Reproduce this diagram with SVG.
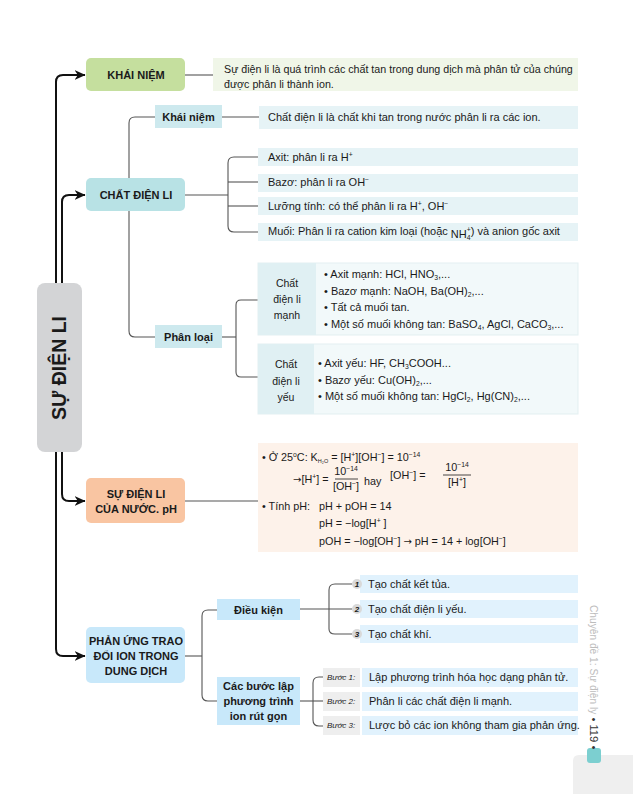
<svg xmlns="http://www.w3.org/2000/svg" width="633" height="794" viewBox="0 0 633 794">
<defs>
<marker id="arrB" viewBox="0 0 10 10" refX="9.5" refY="5" markerWidth="11" markerHeight="11" markerUnits="userSpaceOnUse" orient="auto">
<path d="M0,0.5 L10,5 L0,9.5 L3,5 z" fill="#111"/>
</marker>
</defs>
<style>
text{font-family:"Liberation Sans",Arial,sans-serif;fill:#1a1a1a}
.t{font-size:11px}
.d{font-size:10.7px}
.f{font-size:10.8px}
.b{font-weight:bold;font-size:11px;text-anchor:middle}
.lbl{font-size:10.5px;text-anchor:middle}
.sm{font-size:6.8px}
.ar{font-family:"DejaVu Sans",sans-serif;font-size:10px}
.main{fill:none;stroke:#111;stroke-width:2}
.con{fill:none;stroke:#555;stroke-width:1.1}
.it{font-style:italic;font-size:8px}
</style>
<rect width="633" height="794" fill="#fff"/>

<g id="connectors">
<path class="main" d="M56,290 V82 Q56,75 63,75 H85" marker-end="url(#arrB)"/>
<path class="main" d="M62,290 V202 Q62,195 69,195 H85" marker-end="url(#arrB)"/>
<path class="main" d="M62,445 V494 Q62,501 69,501 H85" marker-end="url(#arrB)"/>
<path class="main" d="M56,445 V649 Q56,656 63,656 H85" marker-end="url(#arrB)"/>
<path class="con" d="M185,75 H213"/>
<path class="con" d="M155,117 H135 Q129,117 129,123 V331 Q129,337 135,337 H155"/>
<path class="con" d="M222,117 H259"/>
<path class="con" d="M185,195 H228"/>
<path class="con" d="M258,157 H234 Q228,157 228,163 V226 Q228,232 234,232 H258"/>
<path class="con" d="M228,182 H258"/>
<path class="con" d="M228,206 H258" stroke="#999"/>
<path class="con" d="M222,337 H236"/>
<path class="con" d="M258,300 H241 Q236,300 236,305 V372 Q236,377 241,377 H258"/>
<path class="con" d="M185,501 H258"/>
<path class="con" d="M185,656 H202"/>
<path class="con" d="M217,610 H208 Q202,610 202,616 V695 Q202,701 208,701 H217"/>
<path class="con" d="M300,609 H352"/>
<path class="con" d="M352,584 H335 Q329,584 329,590 V629 Q329,634 335,634 H352"/>
<path class="con" d="M300,701 H323"/>
<path class="con" d="M323,677 H319 Q313,677 313,683 V720 Q313,726 319,726 H323"/>
</g>

<g id="root">
<rect x="37" y="283" width="45" height="169" rx="8" fill="#d3d4d6"/>
<text transform="translate(66,368) rotate(-90)" x="0" y="0" text-anchor="middle" font-weight="bold" font-size="19.5">SỰ ĐIỆN LI</text>
</g>

<g id="khai-niem">
<rect x="86" y="58" width="99" height="33" rx="5" fill="#c5df9e"/>
<text class="b" x="136" y="79">KHÁI NIỆM</text>
</g>
<g id="khai-niem-def">
<rect x="213" y="58" width="365" height="33" fill="#f0f6e8"/>
<text class="d" x="224" y="73">Sự điện li là quá trình các chất tan trong dung dịch mà phân tử của chúng</text>
<text class="d" x="224" y="88">được phân li thành ion.</text>
</g>

<g id="chat-dien-li">
<rect x="86" y="178" width="99" height="33" rx="5" fill="#b8e2e5"/>
<text class="b" x="136" y="199">CHẤT ĐIỆN LI</text>
</g>
<g id="cdl-khai-niem">
<rect x="155" y="105" width="67" height="23" fill="#cde9ee"/>
<text class="b" x="188.5" y="121">Khái niệm</text>
</g>
<g id="cdl-khai-niem-def">
<rect x="259" y="106" width="319" height="23" fill="#e6f3f6"/>
<text class="t" x="268" y="121">Chất điện li là chất khi tan trong nước phân li ra các ion.</text>
</g>
<g id="cdl-axit">
<rect x="258" y="148" width="320" height="18" fill="#e6f3f6"/>
<text class="t" x="268" y="161">Axit: phân li ra H<tspan class="sm" dy="-4">+</tspan></text>
</g>
<g id="cdl-bazo">
<rect x="258" y="174" width="320" height="18" fill="#e6f3f6"/>
<text class="t" x="268" y="186">Bazơ: phân li ra OH<tspan class="sm" dy="-4">−</tspan></text>
</g>
<g id="cdl-luong-tinh">
<rect x="258" y="197" width="320" height="18" fill="#e6f3f6"/>
<text class="t" x="268" y="210">Lưỡng tính: có thể phân li ra H<tspan class="sm" dy="-4">+</tspan><tspan dy="4">, OH</tspan><tspan class="sm" dy="-4">−</tspan></text>
</g>
<g id="cdl-muoi">
<rect x="258" y="223" width="320" height="18" fill="#e6f3f6"/>
<text class="t" x="268" y="235">Muối: Phân li ra cation kim loại (hoặc <tspan dy="3">NH</tspan><tspan class="sm" dy="2">4</tspan><tspan class="sm" dx="-3.8" dy="-8">+</tspan><tspan dy="3">) và anion gốc axit</tspan></text>
</g>

<g id="phan-loai">
<rect x="155" y="325" width="67" height="23" fill="#cde9ee"/>
<text class="b" x="188.5" y="341">Phân loại</text>
</g>
<g id="manh">
<rect x="258" y="263" width="320" height="72" fill="#f2f9fa" stroke="#e3eff1" stroke-width="1"/>
<rect x="258" y="263" width="58" height="72" fill="#e0f0f3"/>
<text class="lbl" x="287" y="287">Chất</text>
<text class="lbl" x="287" y="303">điện li</text>
<text class="lbl" x="287" y="319">mạnh</text>
<text class="t" x="324" y="278">• Axit mạnh: HCl, HNO<tspan class="sm" dy="2">3</tspan><tspan dy="-2">,...</tspan></text>
<text class="t" x="324" y="295">• Bazơ mạnh: NaOH, Ba(OH)<tspan class="sm" dy="2">2</tspan><tspan dy="-2">,...</tspan></text>
<text class="t" x="324" y="311">• Tất cả muối tan.</text>
<text class="t" x="324" y="328">• Một số muối không tan: BaSO<tspan class="sm" dy="2">4</tspan><tspan dy="-2">, AgCl, CaCO</tspan><tspan class="sm" dy="2">3</tspan><tspan dy="-2">,...</tspan></text>
</g>
<g id="yeu">
<rect x="258" y="344" width="320" height="70" fill="#f2f9fa" stroke="#e3eff1" stroke-width="1"/>
<rect x="258" y="344" width="56" height="70" fill="#e0f0f3"/>
<text class="lbl" x="286" y="368">Chất</text>
<text class="lbl" x="286" y="385">điện li</text>
<text class="lbl" x="286" y="401">yếu</text>
<text class="t" x="318" y="367">• Axit yếu: HF, CH<tspan class="sm" dy="2">3</tspan><tspan dy="-2">COOH...</tspan></text>
<text class="t" x="318" y="384">• Bazơ yếu: Cu(OH)<tspan class="sm" dy="2">2</tspan><tspan dy="-2">,...</tspan></text>
<text class="t" x="318" y="400">• Một số muối không tan: HgCl<tspan class="sm" dy="2">2</tspan><tspan dy="-2">, Hg(CN)</tspan><tspan class="sm" dy="2">2</tspan><tspan dy="-2">,...</tspan></text>
</g>

<g id="nuoc-ph">
<rect x="86" y="478" width="99" height="45" rx="5" fill="#f9c5a2"/>
<text class="b" x="136" y="498">SỰ ĐIỆN LI</text>
<text class="b" x="136" y="513">CỦA NƯỚC. pH</text>
</g>
<g id="ph-box">
<rect x="258" y="443" width="320" height="109" fill="#fdf2ea"/>
<text class="f" x="262" y="461">• Ở 25<tspan class="sm" dy="-4">o</tspan><tspan dy="4">C:  K</tspan><tspan font-size="5.5" dy="2">H₂O</tspan><tspan dy="-2"> = [H</tspan><tspan class="sm" dy="-4">+</tspan><tspan dy="4">][OH</tspan><tspan class="sm" dy="-4">−</tspan><tspan dy="4">] = 10</tspan><tspan class="sm" dy="-4">−14</tspan></text>
<text class="f" x="293" y="483"><tspan class="ar">→</tspan>[H<tspan class="sm" dy="-4">+</tspan><tspan dy="4">] =</tspan></text>
<text class="f" x="346" y="475" text-anchor="middle">10<tspan class="sm" dy="-4">−14</tspan></text>
<line x1="335" y1="479" x2="358" y2="479" stroke="#1a1a1a" stroke-width="0.8"/>
<text class="f" x="346" y="490" text-anchor="middle">[OH<tspan class="sm" dy="-4">−</tspan><tspan dy="4">]</tspan></text>
<text class="f" x="364" y="485">hay</text>
<text class="f" x="390" y="479">[OH<tspan class="sm" dy="-4">−</tspan><tspan dy="4">] =</tspan></text>
<text class="f" x="457" y="471" text-anchor="middle">10<tspan class="sm" dy="-4">−14</tspan></text>
<line x1="443" y1="475" x2="471" y2="475" stroke="#1a1a1a" stroke-width="0.8"/>
<text class="f" x="457" y="486" text-anchor="middle">[H<tspan class="sm" dy="-4">+</tspan><tspan dy="4">]</tspan></text>
<text class="f" x="262" y="510">• Tính pH:</text>
<text class="f" x="319" y="510">pH + pOH = 14</text>
<text class="f" x="319" y="527">pH = −log[H<tspan class="sm" dy="-4">+</tspan><tspan dy="4"> ]</tspan></text>
<text class="f" x="319" y="545">pOH = −log[OH<tspan class="sm" dy="-4">−</tspan><tspan dy="4">] </tspan><tspan class="ar">→</tspan> pH = 14 + log[OH<tspan class="sm" dy="-4">−</tspan><tspan dy="4">]</tspan></text>
</g>

<g id="phan-ung">
<rect x="86" y="627" width="99" height="56" rx="5" fill="#c8e8fa"/>
<text class="b" x="136" y="645">PHẢN ỨNG TRAO</text>
<text class="b" x="136" y="660">ĐỔI ION TRONG</text>
<text class="b" x="136" y="675">DUNG DỊCH</text>
</g>
<g id="dieu-kien">
<rect x="217" y="599" width="83" height="21" fill="#c8e8fa"/>
<text class="b" x="258.5" y="614">Điều kiện</text>
</g>
<g id="dk1">
<rect x="360" y="575" width="218" height="18" fill="#e1f2fd"/>
<circle cx="357" cy="584" r="5" fill="#d9d9d9"/>
<text class="it" x="357" y="587" text-anchor="middle" font-weight="bold">1</text>
<text class="t" x="368" y="588">Tạo chất kết tủa.</text>
</g>
<g id="dk2">
<rect x="360" y="600" width="218" height="18" fill="#e1f2fd"/>
<circle cx="357" cy="609" r="5" fill="#d9d9d9"/>
<text class="it" x="357" y="612" text-anchor="middle" font-weight="bold">2</text>
<text class="t" x="368" y="613">Tạo chất điện li yếu.</text>
</g>
<g id="dk3">
<rect x="360" y="625" width="218" height="18" fill="#e1f2fd"/>
<circle cx="357" cy="634" r="5" fill="#d9d9d9"/>
<text class="it" x="357" y="637" text-anchor="middle" font-weight="bold">3</text>
<text class="t" x="368" y="638">Tạo chất khí.</text>
</g>
<g id="cac-buoc">
<rect x="217" y="677" width="83" height="48" fill="#c8e8fa"/>
<text class="b" x="258.5" y="690">Các bước lập</text>
<text class="b" x="258.5" y="705">phương trình</text>
<text class="b" x="258.5" y="720">ion rút gọn</text>
</g>
<g id="b1">
<rect x="323" y="668" width="37" height="19" fill="#eeeeee"/>
<rect x="362" y="668" width="216" height="19" fill="#e1f2fd"/>
<text class="it" x="327" y="680">Bước 1:</text>
<text class="t" x="369" y="681">Lập phương trình hóa học dạng phân tử.</text>
</g>
<g id="b2">
<rect x="323" y="692" width="37" height="19" fill="#eeeeee"/>
<rect x="362" y="692" width="216" height="19" fill="#e1f2fd"/>
<text class="it" x="327" y="704">Bước 2:</text>
<text class="t" x="369" y="705">Phân li các chất điện li mạnh.</text>
</g>
<g id="b3">
<rect x="323" y="716" width="37" height="19" fill="#eeeeee"/>
<rect x="362" y="716" width="216" height="19" fill="#e1f2fd"/>
<text class="it" x="327" y="728">Bước 3:</text>
<text class="t" x="369" y="729">Lược bỏ các ion không tham gia phản ứng.</text>
</g>

<g id="page-footer">
<path d="M573,794 V761 Q573,755 579,755 H633 V794 z" fill="#efefef"/>
<rect x="587" y="748" width="14" height="15" rx="3" fill="#7ccfd0"/>
<text transform="translate(590,605) rotate(90)" x="0" y="0" font-size="10.2"><tspan fill="#bdbdbd">Chuyên đề 1: Sự điện ly</tspan><tspan fill="#333" font-size="11.2"> • 119 •</tspan></text>
</g>
</svg>
